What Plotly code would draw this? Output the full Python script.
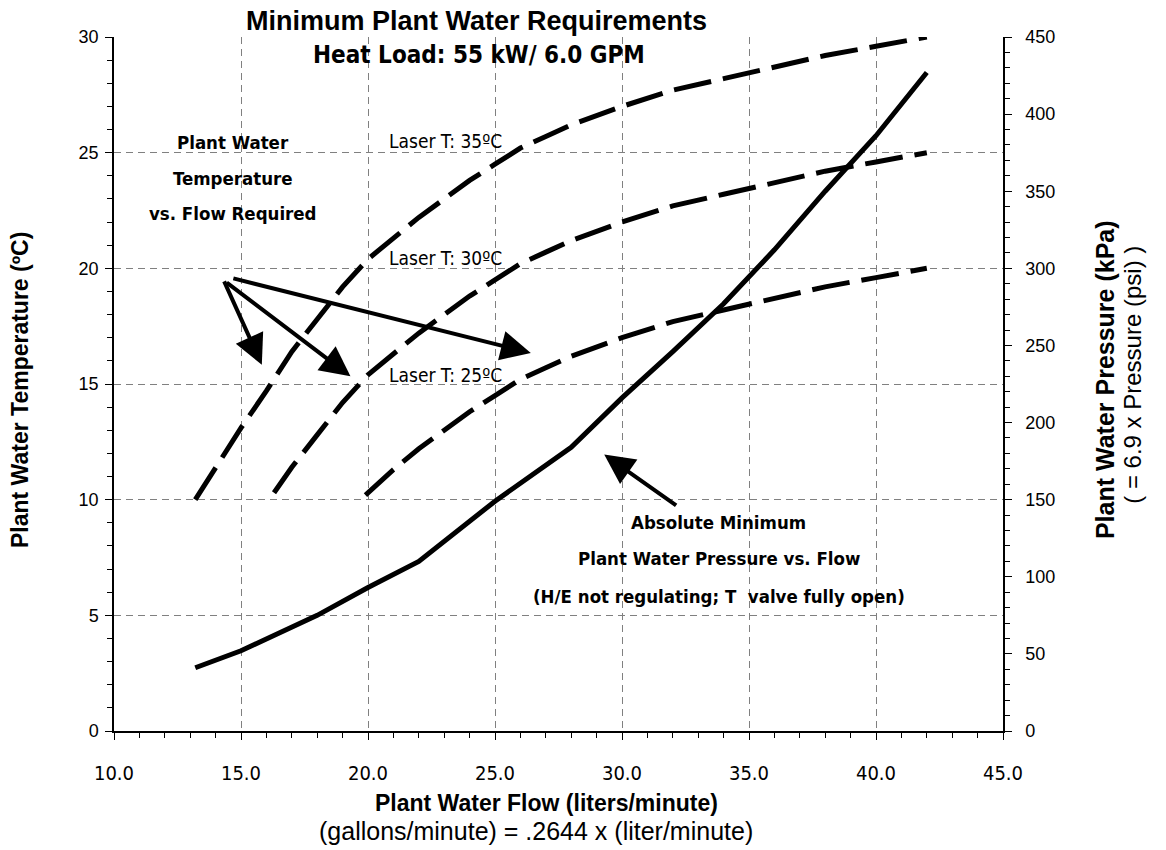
import plotly.graph_objects as go

# ---- data ----
flow35 = [13.2, 14, 15, 16, 17, 18, 19, 20, 21, 22, 23, 24, 25, 26, 27, 28, 30, 32, 34, 36, 38, 40, 42]
temp35 = [10.0, 11.4, 13.1, 14.7, 16.4, 17.8, 19.2, 20.4, 21.3, 22.2, 23.0, 23.8, 24.5, 25.2, 25.7, 26.2, 27.0, 27.7, 28.2, 28.7, 29.2, 29.6, 30.0]

flow30 = [16.3, 17, 18, 19, 20, 21, 22, 23, 24, 25, 26, 27, 28, 30, 32, 34, 36, 38, 40, 42]
temp30 = [10.3, 11.4, 12.8, 14.2, 15.4, 16.3, 17.2, 18.0, 18.8, 19.5, 20.2, 20.7, 21.2, 22.0, 22.7, 23.2, 23.7, 24.2, 24.6, 25.0]

flow25 = [19.9, 21, 22, 23, 24, 25, 26, 27, 28, 30, 32, 34, 36, 38, 40, 42]
temp25 = [10.2, 11.3, 12.2, 13.0, 13.8, 14.5, 15.2, 15.7, 16.2, 17.0, 17.7, 18.2, 18.7, 19.2, 19.6, 20.0]

flowP = [13.2, 15, 18, 20, 22, 25, 28, 30, 32, 34, 36, 38, 40, 42]
pressP = [41, 52, 75, 93, 110, 149, 184, 216, 246, 277, 312, 350, 386, 427]

x_ticks = [10, 15, 20, 25, 30, 35, 40, 45]
grid_x = [15, 20, 25, 30, 35, 40]
grid_y = [5, 10, 15, 20, 25]

NARROW = "Liberation Sans Narrow, Arial Narrow, DejaVu Sans Condensed, sans-serif"
ARIAL = "Liberation Sans, Arial, sans-serif"

fig = go.Figure()
# hidden trace to make the grid-only overlay axes render
fig.add_trace(go.Scatter(x=[None], y=[None], xaxis="x2", yaxis="y3", showlegend=False, hoverinfo="skip"))
dash = "38px,12px"
for fx, ty in [(flow35, temp35), (flow30, temp30), (flow25, temp25)]:
    fig.add_trace(go.Scatter(x=fx, y=ty, mode="lines", yaxis="y",
                             line=dict(color="black", width=5, dash=dash),
                             showlegend=False, hoverinfo="skip"))
fig.add_trace(go.Scatter(x=flowP, y=pressP, mode="lines", yaxis="y2",
                         line=dict(color="black", width=5),
                         showlegend=False, hoverinfo="skip"))

annotations = []
def txt(text, x, y, size, bold=False, font=NARROW, xref="x", yref="y", xanchor="center", angle=0):
    annotations.append(dict(text=("<b>%s</b>" % text) if bold else text, x=x, y=y, xref=xref, yref=yref,
                            showarrow=False, xanchor=xanchor, yanchor="middle", textangle=angle,
                            font=dict(family=font, size=size, color="black")))

# titles
txt("Minimum Plant Water Requirements", 0.408, 1.023, 27, True, ARIAL, "paper", "paper")
txt("Heat Load: 55 kW/ 6.0 GPM", 0.411, 0.974, 24, True, NARROW, "paper", "paper")
txt("Plant Water Flow (liters/minute)", 0.486, -0.104, 23, True, ARIAL, "paper", "paper")
txt("(gallons/minute) = .2644 x (liter/minute)", 0.475, -0.144, 25, False, ARIAL, "paper", "paper")
txt("Plant Water Temperature (ºC)", -0.106, 0.491, 23, True, ARIAL, "paper", "paper", angle=-90)
txt("Plant Water Pressure (kPa)", 1.115, 0.506, 25, True, ARIAL, "paper", "paper", angle=-90)
txt("( = 6.9 x Pressure (psi) )", 1.146, 0.513, 24, False, ARIAL, "paper", "paper", angle=-90)

# in-plot labels
txt("Laser T: 35ºC", 20.75, 25.5, 19, False, NARROW, xanchor="left")
txt("Laser T: 30ºC", 20.75, 20.45, 19, False, NARROW, xanchor="left")
txt("Laser T: 25ºC", 20.75, 15.4, 19, False, NARROW, xanchor="left")
txt("Plant Water", 14.7, 25.45, 18.5, True, NARROW)
txt("Temperature", 14.7, 23.9, 18.5, True, NARROW)
txt("vs. Flow Required", 14.7, 22.35, 18.5, True, NARROW)
txt("Absolute Minimum", 33.8, 9.0, 18.5, True, NARROW)
txt("Plant Water Pressure vs. Flow", 33.8, 7.45, 18.5, True, NARROW)
txt("(H/E not regulating; T  valve fully open)", 33.8, 5.8, 18.5, True, NARROW)

# arrows: (tail x, tail y, head x, head y)
arrows = [(14.31, 19.5, 15.82, 15.83), (14.38, 19.43, 19.31, 15.33),
          (14.64, 19.58, 26.41, 16.34), (32.19, 9.71, 29.3, 11.95)]
for ax_, ay_, hx, hy in arrows:
    annotations.append(dict(x=hx, y=hy, ax=ax_, ay=ay_, xref="x", yref="y", axref="x", ayref="y",
                            text="", showarrow=True, arrowhead=2, arrowsize=1.5, arrowwidth=4,
                            arrowcolor="black"))

grid_style = dict(gridcolor="#808080", griddash="7px,5px", gridwidth=1)

fig.update_layout(
    width=1166, height=850,
    margin=dict(l=114, r=163, t=37, b=119),
    paper_bgcolor="white", plot_bgcolor="white",
    annotations=annotations,
    xaxis=dict(range=[10, 45], tickvals=x_ticks, ticktext=["%.1f" % v for v in x_ticks],
               showline=True, linecolor="black", linewidth=1.5, ticks="outside", ticklen=7,
               tickcolor="black", showgrid=False, zeroline=False, ticklabelstandoff=16,
               minor=dict(dtick=1, ticks="outside", ticklen=5, tickcolor="black", showgrid=False),
               tickfont=dict(family=NARROW, size=20, color="black")),
    xaxis2=dict(range=[10, 45], overlaying="x", tickvals=grid_x, showticklabels=False,
                showgrid=True, ticks="", zeroline=False, showline=False, **grid_style),
    yaxis=dict(range=[0, 30], dtick=5, showline=True, linecolor="black", linewidth=1.5,
               ticks="outside", ticklen=7, tickcolor="black", showgrid=False, zeroline=False,
               ticklabelstandoff=3,
               minor=dict(dtick=1, ticks="outside", ticklen=5, tickcolor="black", showgrid=False),
               tickfont=dict(family=ARIAL, size=18, color="black")),
    yaxis2=dict(range=[0, 450], dtick=50, overlaying="y", side="right", showline=True,
                linecolor="black", linewidth=1.5, ticks="outside", ticklen=7, tickcolor="black",
                showgrid=False, zeroline=False, ticklabelstandoff=10,
                minor=dict(dtick=10, ticks="outside", ticklen=5, tickcolor="black", showgrid=False),
                tickfont=dict(family=ARIAL, size=18, color="black")),
    yaxis3=dict(range=[0, 30], overlaying="y", tickvals=grid_y, showticklabels=False,
                showgrid=True, ticks="", zeroline=False, showline=False, **grid_style),
)

fig.write_html("out.html", config={"displayModeBar": False},
               post_script="document.body.style.margin='0';")
